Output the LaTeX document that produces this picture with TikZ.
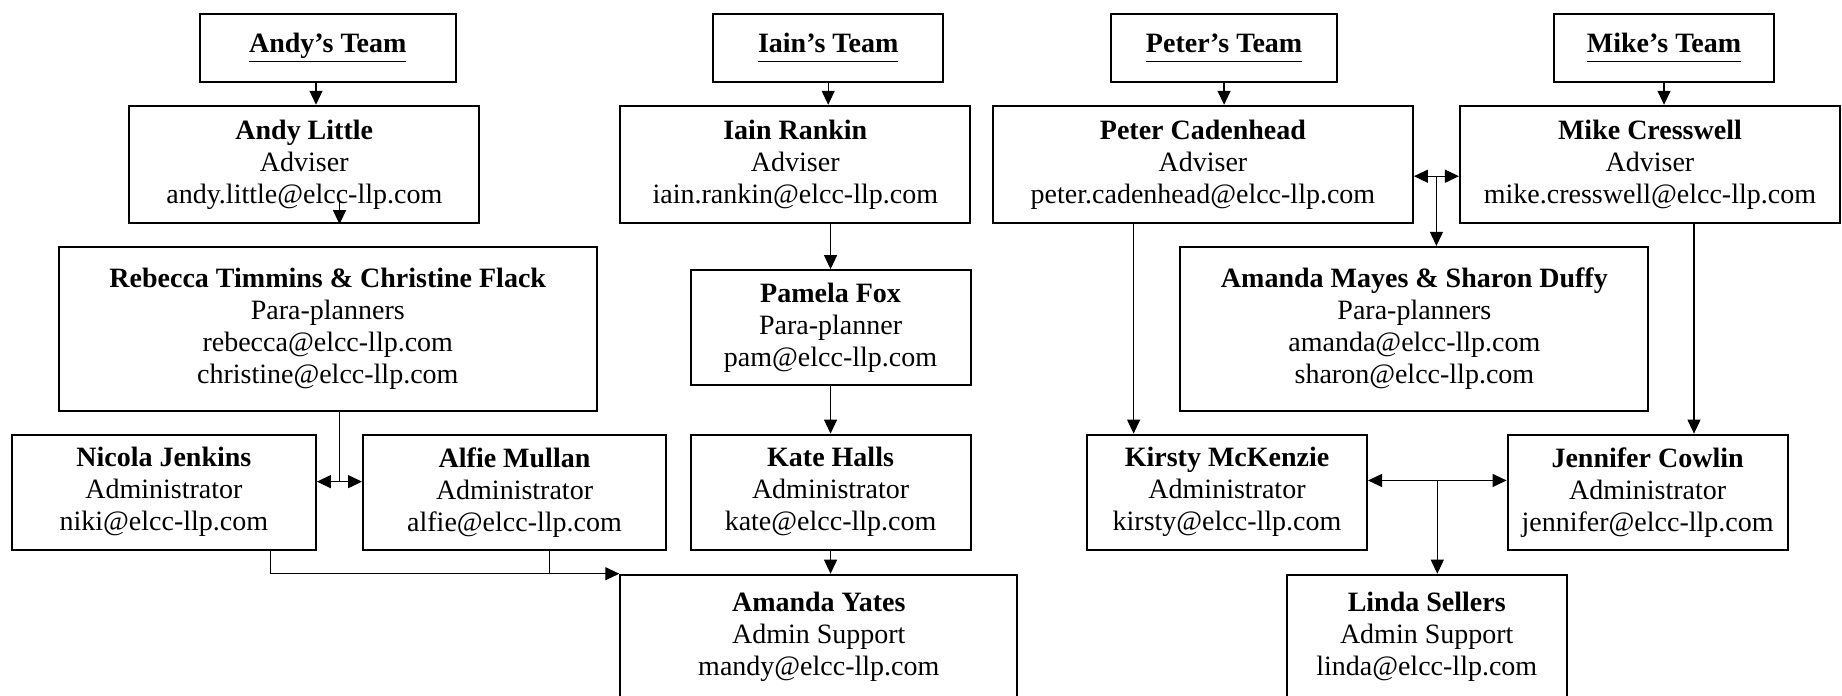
\documentclass[tikz,border=0pt]{standalone}
\usepackage{fontspec}
\setmainfont{Liberation Serif}
\usetikzlibrary{calc,arrows.meta}
\tikzstyle{person}=[draw=black,line width=1pt,align=center,inner sep=2pt,font=\fontsize{14}{16}\selectfont]
\tikzstyle{team}=[person,minimum height=34pt]
\tikzstyle{lnk}=[draw,line width=0.6pt]
\tikzstyle{arr}=[lnk,-{Triangle[length=7pt,width=6.5pt]}]
\tikzstyle{dbl}=[lnk,{Triangle[length=7pt,width=6.5pt]}-{Triangle[length=7pt,width=6.5pt]}]
\begin{document}
\begin{tikzpicture}[x=0.5874pt,y=-0.5874pt]

  \useasboundingbox (0,0) rectangle (1568,592);
  \clip (0,0) rectangle (1568,592);

  % the four team headers
  \foreach \pos/\bw/\name/\label in {
    {(279,41)/128pt/Andy's Team/andyteam},
    {(705,41)/115pt/Iain's Team/iainteam},
    {(1042,41)/113pt/Peter's Team/peterteam},
    {(1416.5,41)/110pt/Mike's Team/miketeam}}
    \node[team,minimum width=\bw] (\label) at \pos {\textbf{\underline{\name\vphantom{y}}}};

  % the people
  \foreach \pos/\bw/\bh/\name/\role/\mail/\label in {
    {(259,140)/175pt/58.7pt/Andy Little/Adviser/andy.little@elcc-llp.com/alittle},
    {(677,140)/175pt/58.7pt/Iain Rankin/Adviser/iain.rankin@elcc-llp.com/irankin},
    {(1024,140)/210pt/58.7pt/Peter Cadenhead/Adviser/peter.cadenhead@elcc-llp.com/pcadenhead},
    {(1404.5,140)/190pt/58.7pt/Mike Cresswell/Adviser/mike.cresswell@elcc-llp.com/mcresswell},
    {(279,280)/269pt/82pt/Rebecca Timmins \& Christine Flack/Para-planners/rebecca@elcc-llp.com\\christine@elcc-llp.com/rtimmins},
    {(707,279)/140pt/57.6pt/Pamela Fox/Para-planner/pam@elcc-llp.com/pfox},
    {(1204,280)/234pt/82pt/Amanda Mayes \& Sharon Duffy/Para-planners/amanda@elcc-llp.com\\sharon@elcc-llp.com/amayes},
    {(139.5,419)/152pt/57.6pt/Nicola Jenkins/Administrator/niki@elcc-llp.com/njenkins},
    {(438,419)/151.5pt/57.6pt/Alfie Mullan/Administrator/alfie@elcc-llp.com/amullan},
    {(707,419)/140pt/57.6pt/Kate Halls/Administrator/kate@elcc-llp.com/khalls},
    {(1044.5,419)/140pt/57.6pt/Kirsty McKenzie/Administrator/kirsty@elcc-llp.com/kmckenzie},
    {(1402.5,419)/140pt/57.6pt/Jennifer Cowlin/Administrator/jennifer@elcc-llp.com/jcowlin},
    {(697,542)/198.5pt/62pt/Amanda Yates/Admin Support/mandy@elcc-llp.com/ayates},
    {(1214.5,542)/140pt/62pt/Linda Sellers/Admin Support/linda@elcc-llp.com/lsellers}}
    \node[person,minimum width=\bw,minimum height=\bh] (\label) at \pos {\textbf{\name}\\\role\\\mail};

  % team -> adviser
  \draw[arr] ($(andyteam.south)+(-10,0)$) -- ($(alittle.north)+(10,0)$);
  \draw[arr] (iainteam.south) -- (iainteam.south |- irankin.north);
  \draw[arr] (peterteam.south) -- (peterteam.south |- pcadenhead.north);
  \draw[arr] (miketeam.south) -- (miketeam.south |- mcresswell.north);

  % Andy's side
  \draw[arr] ($(alittle.south)+(30,-20)$) -- ($(alittle.south)+(30,0)$);
  \coordinate (njam) at ($(njenkins.east)!0.5!(amullan.west)+(0,-9)$);
  \draw[lnk] (njam |- rtimmins.south) -- (njam);
  \draw[dbl] (njenkins.east |- njam) -- (amullan.west |- njam);
  \coordinate (njout) at ($(njenkins.south)+(90.5,0)$);
  \coordinate (amout) at ($(amullan.south)+(30,0)$);
  \draw[arr] (njout) |- (ayates.north west);
  \draw[lnk] (amout) -- (amout |- ayates.north);

  % Iain's side
  \draw[arr] (pfox.north |- irankin.south) -- (pfox.north);
  \draw[arr] (pfox.south) -- (khalls.north);
  \draw[arr] (khalls.south) -- (khalls.south |- ayates.north);

  % Peter's and Mike's side
  \coordinate (pcmc) at ($(pcadenhead.east)!0.5!(mcresswell.west)+(0,10)$);
  \draw[dbl] (pcadenhead.east |- pcmc) -- (mcresswell.west |- pcmc);
  \draw[arr] (pcmc) -- (pcmc |- amayes.north);
  \coordinate (pcout) at ($(pcadenhead.south)+(-59,0)$);
  \draw[arr] (pcout) -- (pcout |- kmckenzie.north);
  \coordinate (mcout) at ($(mcresswell.south)+(37.5,0)$);
  \draw[arr] (mcout) -- (mcout |- jcowlin.north);
  \coordinate (kmjc) at ($(kmckenzie.east)!0.5!(jcowlin.west)+(0,-10)$);
  \draw[dbl] (kmckenzie.east |- kmjc) -- (jcowlin.west |- kmjc);
  \draw[arr] (kmjc) -- (kmjc |- lsellers.north);

\end{tikzpicture}
\end{document}
